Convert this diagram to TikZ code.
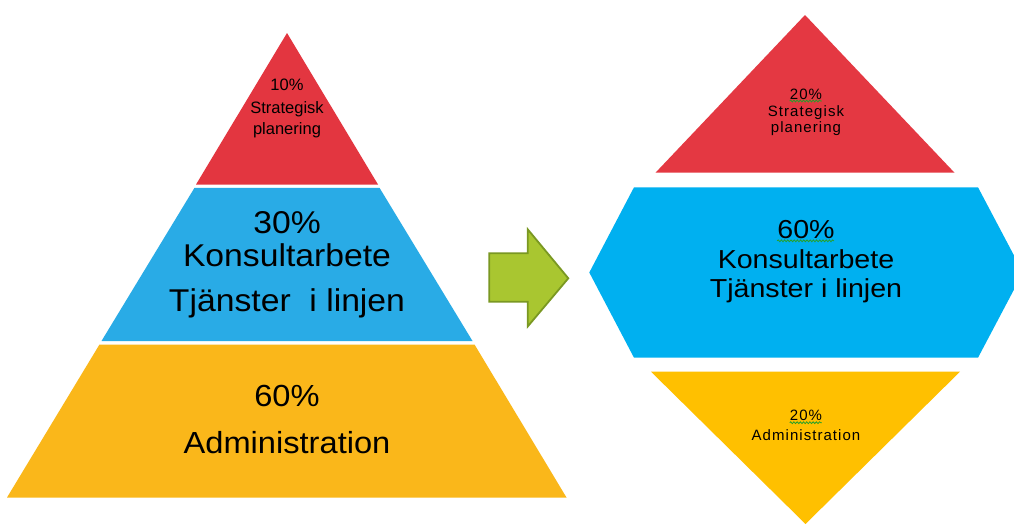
\documentclass[tikz,border=0pt]{standalone}
\usepackage{fontspec}
\setmainfont{Liberation Sans}
\newfontfamily\bigL[FakeStretch=1.07]{Liberation Sans}
\newfontfamily\hexF[FakeStretch=1.1]{Liberation Sans}
\newfontfamily\smallR[LetterSpace=7]{Liberation Sans}
\usetikzlibrary{decorations.pathmorphing}
\definecolor{lred}{RGB}{227,54,64}
\definecolor{rred}{RGB}{228,56,66}
\definecolor{lblue}{RGB}{41,171,230}
\definecolor{rblue}{RGB}{0,176,240}
\definecolor{lyellow}{RGB}{250,183,26}
\definecolor{ryellow}{RGB}{255,192,0}
\definecolor{arrowfill}{RGB}{169,198,48}
\definecolor{arrowline}{RGB}{122,152,34}
\definecolor{squig}{RGB}{40,160,40}
\tikzset{
  lsmall/.style={anchor=base,inner sep=0pt,font=\fontsize{16.5}{19}\selectfont},
  lbig/.style={anchor=base,inner sep=0pt,font=\bigL\fontsize{31.5}{36}\selectfont},
  lbigy/.style={anchor=base,inner sep=0pt,font=\bigL\fontsize{30.5}{36}\selectfont},
  hextext/.style={anchor=base,inner sep=0pt,font=\hexF\fontsize{26}{30}\selectfont},
  rsmall/.style={anchor=base,inner sep=0pt,font=\smallR\fontsize{15}{17}\selectfont},
  squiggle/.style={draw=squig,line width=0.8pt,decorate,decoration={snake,segment length=3.2pt,amplitude=0.9pt}}
}
\begin{document}
\begin{tikzpicture}[x=1pt,y=-1pt]
\clip (0,0) rectangle (1014,525);
\fill[white] (0,0) rectangle (1014,525);
% left pyramid
\fill[lred] (287,33) -- (378,184.5) -- (196,184.5) -- cycle;
\fill[lblue] (194.5,187.8) -- (379.5,187.8) -- (472.5,341) -- (101.5,341) -- cycle;
\fill[lyellow] (99.5,344.5) -- (474.5,344.5) -- (566.5,497.5) -- (7,497.5) -- cycle;
% arrow
\draw[fill=arrowfill,draw=arrowline,line width=1.8pt,line join=miter]
  (489.3,253.3) -- (527.7,253.3) -- (527.7,229.3) -- (568.3,278.3)
  -- (527.7,326.5) -- (527.7,301.7) -- (489.3,301.7) -- cycle;
% right shapes
\fill[rred] (805,15) -- (954.5,172.7) -- (655.5,172.7) -- cycle;
\fill[rblue] (634,187.3) -- (978,187.3) -- (1023,272.5) -- (978,357.7) -- (634,357.7) -- (589.3,272.5) -- cycle;
\fill[ryellow] (651,371.7) -- (960,371.7) -- (805.5,524) -- cycle;
% left texts
\node[lsmall] (l1) at (287,90.7) {10\%};
\node[lsmall] (l2) at (287,113) {Strategisk};
\node[lsmall] (l3) at (287,134) {planering};
\node[lbig] (b1) at (287,233.3) {30\%};
\node[lbig] (b2) at (287,266.7) {Konsultarbete};
\node[lbig] (b3) at (287,311.7) {Tjänster~~i linjen};
\node[lbigy] (y1) at (287,406.7) {60\%};
\node[lbigy] (y2) at (287,453.3) {Administration};
% right texts
\node[rsmall] (r1) at (806,99) {20\%};
\node[rsmall] (r2) at (806,116) {Strategisk};
\node[rsmall] (r3) at (806,132) {planering};
\node[hextext] (h1) at (806,238.3) {60\%};
\node[hextext] (h2) at (806,268.5) {Konsultarbete};
\node[hextext] (h3) at (806,297.5) {Tjänster i linjen};
\node[rsmall] (s1) at (806,420.7) {20\%};
\node[rsmall] (s2) at (806,440) {Administration};
% spell-check squiggles
\draw[squiggle] (r1.base west) ++(0,2) -- ++(32,0);
\draw[squiggle] (h1.base west) ++(0,2.5) -- ++(57,0);
\draw[squiggle] (s1.base west) ++(0,2) -- ++(32,0);
\end{tikzpicture}
\end{document}
